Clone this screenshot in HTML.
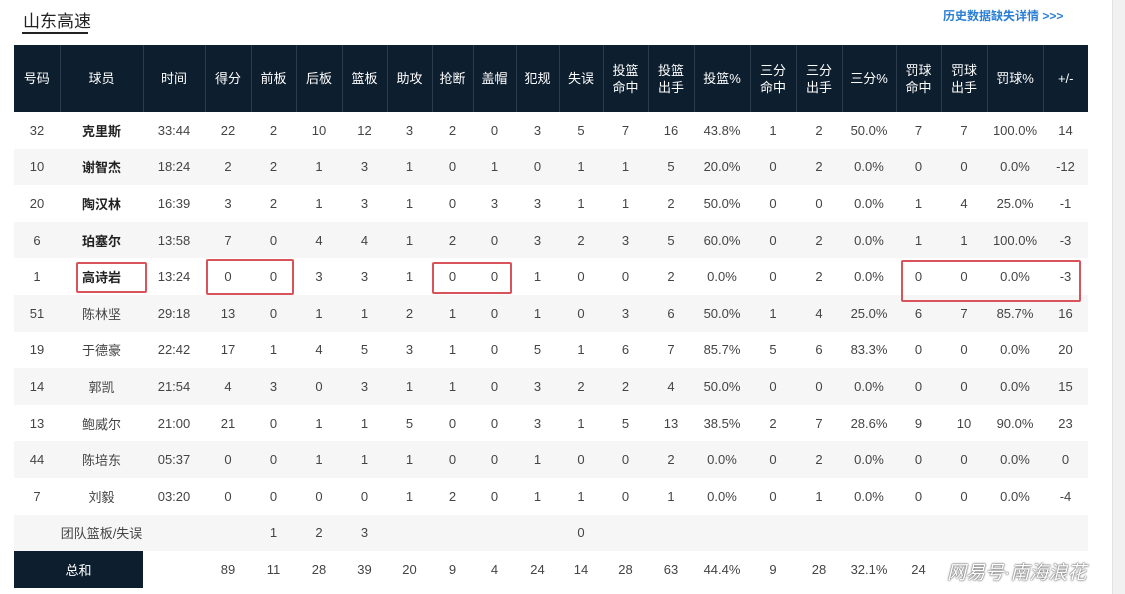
<!DOCTYPE html>
<html><head><meta charset="utf-8"><style>
body{margin:0;width:1125px;height:594px;background:#fff;position:relative;overflow:hidden;font-family:"Liberation Sans","Noto Sans CJK SC",sans-serif;color:#333}
.title{position:absolute;left:23px;top:7px;font-size:17px;color:#222}
.uline{position:absolute;left:22px;top:32px;width:66px;height:2px;background:#222}
.link{position:absolute;left:943px;top:7px;font-size:12px;color:#2a7fd4;font-weight:bold}
.sb{position:absolute;left:1112px;top:0;width:13px;height:594px;background:#f1f1f1;border-left:1px solid #e3e3e3}
table{position:absolute;left:14px;top:45px;border-collapse:collapse;table-layout:fixed;font-size:13px}
th{background:#0d1e2e;color:#fff;font-weight:normal;height:67px;border-left:1px solid #2c3c4c;padding:0;line-height:17px;font-size:13px}
th:first-child{border-left:none}
td{text-align:center;height:36.6px;padding:0;color:#444}
tr.g td{background:#f6f6f6}
td.b{font-weight:bold;color:#222}
td.dk{background:#0d1e2e!important;color:#fff}
.box{position:absolute;border:2.5px solid #d9545a;border-radius:2px}
.wm{position:absolute;left:947px;top:558px;font-size:19px;color:#fff;text-shadow:0 0 2px #555,0 0 1px #333;font-style:italic}
</style></head><body>
<div class="title">山东高速</div><div class="uline"></div>
<div class="link">历史数据缺失详情 &gt;&gt;&gt;</div>
<div class="sb"></div>
<table>
<colgroup><col style="width:46px"><col style="width:83px"><col style="width:62px"><col style="width:46px"><col style="width:45px"><col style="width:46px"><col style="width:45px"><col style="width:45px"><col style="width:41px"><col style="width:43px"><col style="width:43px"><col style="width:44px"><col style="width:45px"><col style="width:46px"><col style="width:56px"><col style="width:46px"><col style="width:46px"><col style="width:54px"><col style="width:45px"><col style="width:46px"><col style="width:56px"><col style="width:45px"></colgroup>
<tr><th>号码</th><th>球员</th><th>时间</th><th>得分</th><th>前板</th><th>后板</th><th>篮板</th><th>助攻</th><th>抢断</th><th>盖帽</th><th>犯规</th><th>失误</th><th>投篮<br>命中</th><th>投篮<br>出手</th><th>投篮%</th><th>三分<br>命中</th><th>三分<br>出手</th><th>三分%</th><th>罚球<br>命中</th><th>罚球<br>出手</th><th>罚球%</th><th>+/-</th></tr>
<tr><td>32</td><td class="b">克里斯</td><td>33:44</td><td>22</td><td>2</td><td>10</td><td>12</td><td>3</td><td>2</td><td>0</td><td>3</td><td>5</td><td>7</td><td>16</td><td>43.8%</td><td>1</td><td>2</td><td>50.0%</td><td>7</td><td>7</td><td>100.0%</td><td>14</td></tr>
<tr class="g"><td>10</td><td class="b">谢智杰</td><td>18:24</td><td>2</td><td>2</td><td>1</td><td>3</td><td>1</td><td>0</td><td>1</td><td>0</td><td>1</td><td>1</td><td>5</td><td>20.0%</td><td>0</td><td>2</td><td>0.0%</td><td>0</td><td>0</td><td>0.0%</td><td>-12</td></tr>
<tr><td>20</td><td class="b">陶汉林</td><td>16:39</td><td>3</td><td>2</td><td>1</td><td>3</td><td>1</td><td>0</td><td>3</td><td>3</td><td>1</td><td>1</td><td>2</td><td>50.0%</td><td>0</td><td>0</td><td>0.0%</td><td>1</td><td>4</td><td>25.0%</td><td>-1</td></tr>
<tr class="g"><td>6</td><td class="b">珀塞尔</td><td>13:58</td><td>7</td><td>0</td><td>4</td><td>4</td><td>1</td><td>2</td><td>0</td><td>3</td><td>2</td><td>3</td><td>5</td><td>60.0%</td><td>0</td><td>2</td><td>0.0%</td><td>1</td><td>1</td><td>100.0%</td><td>-3</td></tr>
<tr><td>1</td><td class="b">高诗岩</td><td>13:24</td><td>0</td><td>0</td><td>3</td><td>3</td><td>1</td><td>0</td><td>0</td><td>1</td><td>0</td><td>0</td><td>2</td><td>0.0%</td><td>0</td><td>2</td><td>0.0%</td><td>0</td><td>0</td><td>0.0%</td><td>-3</td></tr>
<tr class="g"><td>51</td><td>陈林坚</td><td>29:18</td><td>13</td><td>0</td><td>1</td><td>1</td><td>2</td><td>1</td><td>0</td><td>1</td><td>0</td><td>3</td><td>6</td><td>50.0%</td><td>1</td><td>4</td><td>25.0%</td><td>6</td><td>7</td><td>85.7%</td><td>16</td></tr>
<tr><td>19</td><td>于德豪</td><td>22:42</td><td>17</td><td>1</td><td>4</td><td>5</td><td>3</td><td>1</td><td>0</td><td>5</td><td>1</td><td>6</td><td>7</td><td>85.7%</td><td>5</td><td>6</td><td>83.3%</td><td>0</td><td>0</td><td>0.0%</td><td>20</td></tr>
<tr class="g"><td>14</td><td>郭凯</td><td>21:54</td><td>4</td><td>3</td><td>0</td><td>3</td><td>1</td><td>1</td><td>0</td><td>3</td><td>2</td><td>2</td><td>4</td><td>50.0%</td><td>0</td><td>0</td><td>0.0%</td><td>0</td><td>0</td><td>0.0%</td><td>15</td></tr>
<tr><td>13</td><td>鲍威尔</td><td>21:00</td><td>21</td><td>0</td><td>1</td><td>1</td><td>5</td><td>0</td><td>0</td><td>3</td><td>1</td><td>5</td><td>13</td><td>38.5%</td><td>2</td><td>7</td><td>28.6%</td><td>9</td><td>10</td><td>90.0%</td><td>23</td></tr>
<tr class="g"><td>44</td><td>陈培东</td><td>05:37</td><td>0</td><td>0</td><td>1</td><td>1</td><td>1</td><td>0</td><td>0</td><td>1</td><td>0</td><td>0</td><td>2</td><td>0.0%</td><td>0</td><td>2</td><td>0.0%</td><td>0</td><td>0</td><td>0.0%</td><td>0</td></tr>
<tr><td>7</td><td>刘毅</td><td>03:20</td><td>0</td><td>0</td><td>0</td><td>0</td><td>1</td><td>2</td><td>0</td><td>1</td><td>1</td><td>0</td><td>1</td><td>0.0%</td><td>0</td><td>1</td><td>0.0%</td><td>0</td><td>0</td><td>0.0%</td><td>-4</td></tr>
<tr class="g"><td></td><td>团队篮板/失误</td><td></td><td></td><td>1</td><td>2</td><td>3</td><td></td><td></td><td></td><td></td><td>0</td><td></td><td></td><td></td><td></td><td></td><td></td><td></td><td></td><td></td><td></td></tr>
<tr><td colspan="2" class="dk">总和</td><td></td><td>89</td><td>11</td><td>28</td><td>39</td><td>20</td><td>9</td><td>4</td><td>24</td><td>14</td><td>28</td><td>63</td><td>44.4%</td><td>9</td><td>28</td><td>32.1%</td><td>24</td><td></td><td></td><td></td></tr>
</table>
<div class="box" style="left:76px;top:262px;width:67px;height:27px"></div>
<div class="box" style="left:206px;top:259px;width:84px;height:32px"></div>
<div class="box" style="left:432px;top:262px;width:76px;height:28px"></div>
<div class="box" style="left:901px;top:260px;width:176px;height:38px"></div>
<div class="wm">网易号·南海浪花</div>
</body></html>
